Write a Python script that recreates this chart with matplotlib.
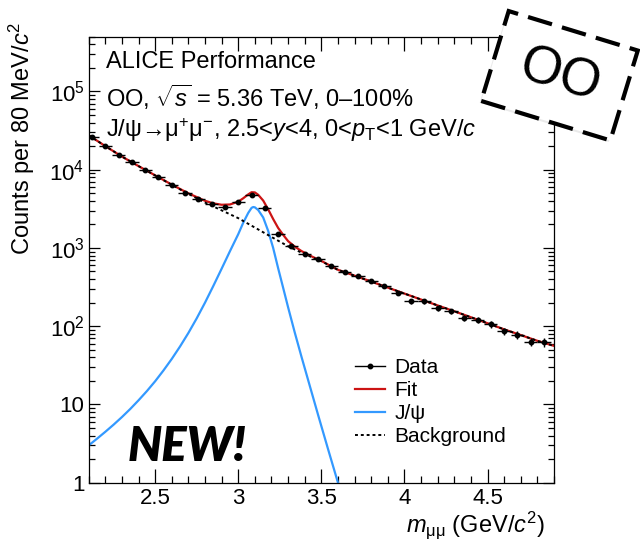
import numpy as np
import matplotlib
matplotlib.use("Agg")
import matplotlib.pyplot as plt
from matplotlib.lines import Line2D
from matplotlib.patches import Rectangle
from matplotlib.transforms import Affine2D, IdentityTransform
from matplotlib.ticker import FixedLocator, FixedFormatter, LogLocator, MultipleLocator, NullFormatter

plt.rcParams['font.family'] = ['Liberation Sans', 'DejaVu Sans']
plt.rcParams['mathtext.fontset'] = 'custom'
plt.rcParams['mathtext.rm'] = 'Liberation Sans'
plt.rcParams['mathtext.it'] = 'Liberation Sans:italic'
plt.rcParams['mathtext.bf'] = 'Liberation Sans:bold'

# data: dimuon invariant mass, 80 MeV bins
bin_width = 0.08
mass = [2.12, 2.20, 2.28, 2.36, 2.44, 2.52, 2.60, 2.68, 2.76, 2.84, 2.92, 3.00,
        3.08, 3.16, 3.24, 3.32, 3.40, 3.48, 3.56, 3.64, 3.72, 3.80, 3.88, 3.96,
        4.04, 4.12, 4.20, 4.28, 4.36, 4.44, 4.52, 4.60, 4.68, 4.76, 4.84]
counts = [26000, 19900, 15500, 12400, 9900, 8000, 6400, 5060, 4160, 3660, 3310, 3880,
          4780, 3260, 1490, 1045, 826, 728, 580, 491, 435, 375, 323, 266,
          208, 208, 169, 155, 128, 121, 106, 86, 77, 63, 62]
count_err = [160, 140, 125, 110, 100, 90, 80, 71, 65, 60, 58, 62,
             69, 57, 39, 32, 29, 27, 24, 22, 21, 19, 18, 16,
             14, 14, 13, 12, 11, 11, 10, 9, 9, 8, 8]

# fit components
fit_x = [2.10, 2.20, 2.30, 2.40, 2.50, 2.60, 2.70, 2.80, 2.85, 2.90, 2.95, 3.00,
         3.03, 3.06, 3.08, 3.10, 3.12, 3.15, 3.18, 3.21, 3.24, 3.27, 3.30, 3.34,
         3.38, 3.43, 3.50, 3.60, 3.70, 3.80, 3.90, 4.00, 4.10, 4.20, 4.30, 4.40,
         4.50, 4.60, 4.70, 4.80, 4.90]
fit_y = [27500, 20000, 14700, 11100, 8450, 6440, 4980, 4000, 3710, 3560, 3590, 3900,
         4310, 4830, 5150, 5120, 4770, 4030, 3110, 2340, 1800, 1470, 1220, 1040,
         913, 800, 682, 525, 442, 372, 311, 261, 219, 184, 155, 130,
         109, 91, 77, 65, 56]

jpsi_x = [2.10, 2.15, 2.20, 2.25, 2.30, 2.35, 2.40, 2.45, 2.50, 2.55, 2.60, 2.65,
          2.70, 2.75, 2.80, 2.85, 2.90, 2.95, 3.00, 3.03, 3.06, 3.08, 3.09, 3.10,
          3.12, 3.15, 3.18, 3.21, 3.24, 3.27, 3.30, 3.34, 3.38, 3.43, 3.48, 3.54, 3.60]
jpsi_y = [3.0, 3.65, 4.47, 5.52, 6.9, 8.75, 11.3, 14.8, 19.8, 27.2, 38.2, 55.2,
          82, 126, 200, 327, 543, 908, 1500, 2100, 2800, 3250, 3330, 3300,
          3050, 2450, 1650, 1000, 550, 310, 174, 83, 41, 17.4, 7.4, 2.7, 1.0]

bkg_x = [2.10, 2.20, 2.30, 2.40, 2.50, 2.60, 2.70, 2.80, 2.90, 3.00, 3.10, 3.20,
         3.30, 3.40, 3.50, 3.60, 3.70, 3.80, 3.90, 4.00, 4.10, 4.20, 4.30, 4.40,
         4.50, 4.60, 4.70, 4.80, 4.90]
bkg_y = [27500, 20000, 14700, 11100, 8430, 6400, 4900, 3800, 3020, 2400, 1820, 1380,
         1050, 832, 676, 525, 442, 372, 311, 261, 219, 184, 155, 130,
         109, 91, 77, 65, 56]

y_ticks = [1, 10, 100, 1000, 10000, 100000]
y_ticklabels = ['1', '10', '$10^{2}$', '$10^{3}$', '$10^{4}$', '$10^{5}$']
x_ticks = [2.5, 3.0, 3.5, 4.0, 4.5]
x_ticklabels = ['2.5', '3', '3.5', '4', '4.5']

red = '#cc1414'
blue = '#3399ff'

fig = plt.figure(figsize=(6.4, 5.46), dpi=100)
ax = fig.add_axes([88.7 / 640, 63.3 / 546, (554 - 88.7) / 640, (482.7 - 36.7) / 546])

ax.plot(fit_x, fit_y, color=red, lw=1.6, zorder=2)
ax.plot(jpsi_x, jpsi_y, color=blue, lw=1.6, zorder=2)
ax.plot(bkg_x, bkg_y, color='black', lw=1.4, ls=(0, (1.5, 1.5)), zorder=3)
ax.errorbar(mass, counts, yerr=count_err, xerr=bin_width / 2, fmt='o', ms=3.2,
            color='black', elinewidth=1.0, capsize=0, zorder=4)

ax.set_yscale('log')
ax.set_xlim(2.1, 4.9)
ax.set_ylim(1, 5e5)

ax.yaxis.set_major_locator(FixedLocator(y_ticks))
ax.yaxis.set_major_formatter(FixedFormatter(y_ticklabels))
ax.yaxis.set_minor_locator(LogLocator(base=10, subs=np.arange(2, 10), numticks=20))
ax.yaxis.set_minor_formatter(NullFormatter())
ax.xaxis.set_major_locator(FixedLocator(x_ticks))
ax.xaxis.set_major_formatter(FixedFormatter(x_ticklabels))
ax.xaxis.set_minor_locator(MultipleLocator(0.1))

ax.tick_params(which='both', direction='in', top=True, right=True, width=0.9, labelsize=16)
ax.tick_params(axis='x', which='major', length=10, pad=4)
ax.tick_params(axis='x', which='minor', length=5)
ax.tick_params(axis='y', which='major', length=8, pad=3)
ax.tick_params(axis='y', which='minor', length=4.5)
for sp in ax.spines.values():
    sp.set_linewidth(0.9)

fig.text(22 / 640, 1 - 22 / 546, 'Counts per 80 MeV/$c^{2}$', rotation=90,
         ha='center', va='top', fontsize=17)
fig.text(545 / 640, 1 - 525 / 546, r'$m_{\mathrm{μμ}}$ (GeV/$c^{2}$)',
         ha='right', va='center', fontsize=17)

ax.text(106 / 640, 1 - 62 / 546, 'ALICE Performance', transform=fig.transFigure,
        ha='left', va='center', fontsize=17)
ax.text(106 / 640, 1 - 97 / 546, r'OO, $\sqrt{s}$ = 5.36 TeV, 0–100%', transform=fig.transFigure,
        ha='left', va='center', fontsize=17)
ax.text(106 / 640, 1 - 130 / 546, r'J/ψ→μ$^{+}$μ$^{-}$, 2.5<$y$<4, 0<$p_{\mathrm{T}}$<1 GeV/$c$',
        transform=fig.transFigure, ha='left', va='center', fontsize=17)

handles = [
    Line2D([], [], color='black', lw=1.0, marker='o', ms=3.2),
    Line2D([], [], color=red, lw=1.6),
    Line2D([], [], color=blue, lw=1.6),
    Line2D([], [], color='black', lw=1.4, ls=(0, (1.5, 1.5))),
]
ax.legend(handles, ['Data', 'Fit', 'J/ψ', 'Background'], loc='upper left',
          bbox_to_anchor=(355 / 640, 1 - 358 / 546), bbox_transform=fig.transFigure,
          frameon=False, fontsize=15, handlelength=1.45, handletextpad=0.45,
          labelspacing=0.2, borderpad=0, borderaxespad=0)

fig.text(187 / 640, 1 - 447 / 546, 'NEW!', family='Lato', fontweight='heavy',
         fontstyle='italic', fontsize=34, ha='center', va='center')

# rotated dashed "OO" tag
cx, cy = 559.5, 546 - 75.75
bw, bh = 135, 94
rot = Affine2D().rotate_deg_around(cx, cy, -17)
shadow = Rectangle((cx - bw / 2 - 1, cy - bh / 2 - 2), bw, bh, facecolor='#999999', alpha=0.2,
                   edgecolor='none', transform=rot + IdentityTransform())
box = Rectangle((cx - bw / 2, cy - bh / 2), bw, bh, facecolor='white', edgecolor='black',
                lw=3.0, ls=(0, (6, 2.5)), transform=rot + IdentityTransform())
fig.patches.extend([shadow, box])
fig.text(cx / 640, cy / 546, 'OO', rotation=-17, rotation_mode='anchor', fontsize=38,
         ha='center', va='center', zorder=5)

fig.savefig('out.png', dpi=100)
